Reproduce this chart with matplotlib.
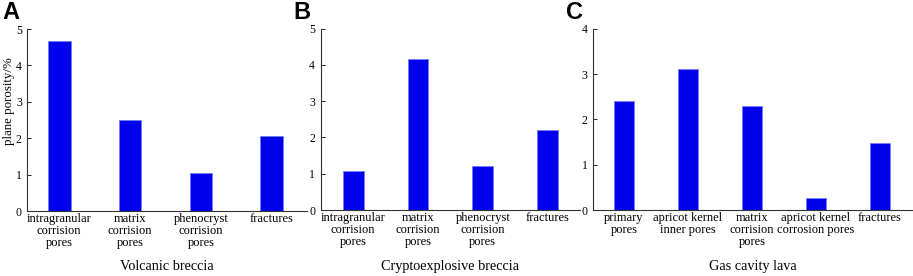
import matplotlib
matplotlib.use("Agg")
import matplotlib.pyplot as plt
import numpy as np

plt.rcParams['font.family'] = ['Liberation Serif', 'DejaVu Serif']

# panel A
cats_a = ['intragranular\ncorrision\npores', 'matrix\ncorrision\npores',
          'phenocryst\ncorrision\npores', 'fractures']
vals_a = [4.67, 2.5, 1.05, 2.07]
# panel B
cats_b = ['intragranular\ncorrision\npores', 'matrix\ncorrision\npores',
          'phenocryst\ncorrision\npores', 'fractures']
vals_b = [1.08, 4.16, 1.2, 2.22]
# panel C
cats_c = ['primary\npores', 'apricot kernel\ninner pores', 'matrix\ncorrision\npores',
          'apricot kernel\ncorrosion pores', 'fractures']
vals_c = [2.4, 3.1, 2.3, 0.26, 1.47]

panels = [
    ('A', cats_a, vals_a, 'Volcanic breccia', 5, [0.0300, 0.2355, 0.3063, 0.659], -0.45),
    ('B', cats_b, vals_b, 'Cryptoexplosive breccia', 5, [0.3513, 0.2391, 0.2840, 0.6569], -0.5),
    ('C', cats_c, vals_c, 'Gas cavity lava', 4, [0.6498, 0.2391, 0.3490, 0.6569], -0.48),
]

fig = plt.figure(figsize=(9.13, 2.76), dpi=100)

for letter, cats, vals, title, ymax, rect, xl in panels:
    ax = fig.add_axes(rect)
    x = np.arange(len(cats))
    ax.bar(x, vals, width=0.32, color='#0000ee', edgecolor='#7080f0', linewidth=0.6)
    ax.set_xlim(xl, len(cats) - 0.5)
    ax.set_ylim(0, ymax)
    ax.set_yticks(range(ymax + 1))
    ax.set_xticks(x)
    ax.set_xticklabels(cats, fontsize=9, linespacing=0.98)
    ax.tick_params(axis='x', length=0, pad=1.5)
    ax.tick_params(axis='y', direction='in', length=3, width=0.6, labelsize=8.5, pad=4)
    for s in ['top', 'right']:
        ax.spines[s].set_visible(False)
    for s in ['left', 'bottom']:
        ax.spines[s].set_linewidth(0.8)
        ax.spines[s].set_color('#333333')
    fig.text(rect[0] + rect[2] / 2, 0.036, title, fontsize=10.3,
             ha='center', va='center')
    fig.text(rect[0] - (0.027 if letter == 'A' else 0.03), 0.995, letter,
             fontsize=17, fontweight='bold', family='Liberation Sans',
             ha='left', va='top')

fig.text(0.0095, 0.635, 'plane porosity/%', fontsize=9.3, rotation=90,
         ha='center', va='center')

fig.savefig('out.png', dpi=100)
